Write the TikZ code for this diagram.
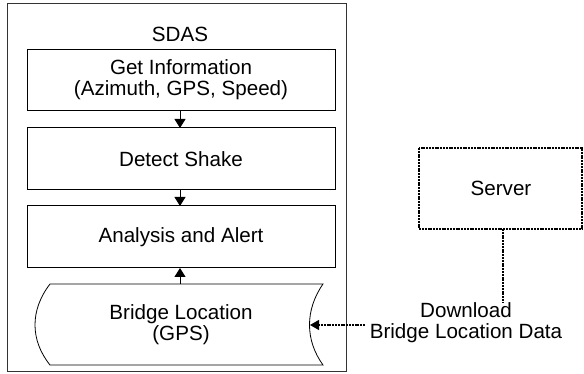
\documentclass[tikz,border=0pt]{standalone}
\usepackage{fontspec}
\setmainfont{Liberation Sans}
\usetikzlibrary{arrows.meta}
\begin{document}
\begin{tikzpicture}[x=1pt,y=-1pt,
  every node/.style={font=\fontsize{20.6}{21}\selectfont, align=center, inner sep=0pt},
  procbox/.style={draw, line width=1pt},
  flow/.style={line width=1pt, -{Triangle[length=9pt,width=11pt]}},
  dashline/.style={line width=1.1pt, dash pattern=on 2pt off 0.8pt}]
\useasboundingbox (0,0) rectangle (584,374);
% outer box
\draw[line width=1pt, draw=black!80] (7,4) rectangle (346,371);
\node (sdas) at (180,34) {SDAS};
% process boxes
\draw[procbox] (27,50) rectangle (335,111);
\node (gi) at (181,80) {Get Information\\(Azimuth, GPS, Speed)};
\coordinate (gib) at (180,111);
\draw[procbox] (27,128) rectangle (335,190);
\node (ds) at (181,159) {Detect Shake};
\coordinate (dst) at (180,128);
\coordinate (dsb) at (180,190);
\draw[procbox] (27,206) rectangle (335,268);
\node (aa) at (181,237) {Analysis and Alert};
\coordinate (aat) at (180,206);
\coordinate (aab) at (180,268);
% stored data shape
\draw[line width=0.8pt] (50,284) -- (323,284)
  .. controls (305,310) and (305,340) .. (323,365) -- (50,365)
  .. controls (30,340) and (30,310) .. (50,284) -- cycle;
\node (bl) at (181,325) {Bridge Location\\(GPS)};
\coordinate (blt) at (180,284);
\coordinate (blr) at (310,325);
% flows
\draw[flow] (gib) -- (dst);
\draw[flow] (dsb) -- (aat);
\draw[flow] (blt) -- (aab);
% server
\draw[dashline] (419,148) rectangle (582,229);
\node (srv) at (501,188) {Server};
\coordinate (srvb) at (503,229);
\coordinate (srvend) at (503,302);
\draw[dashline] (srvb) -- (srvend);
\node (dl) at (466,323) {Download\\Bridge Location Data};
\coordinate (dlw) at (365,325);
\draw[dashline, -{Triangle[length=9pt,width=10pt]}] (dlw) -- (blr);
\end{tikzpicture}
\end{document}
